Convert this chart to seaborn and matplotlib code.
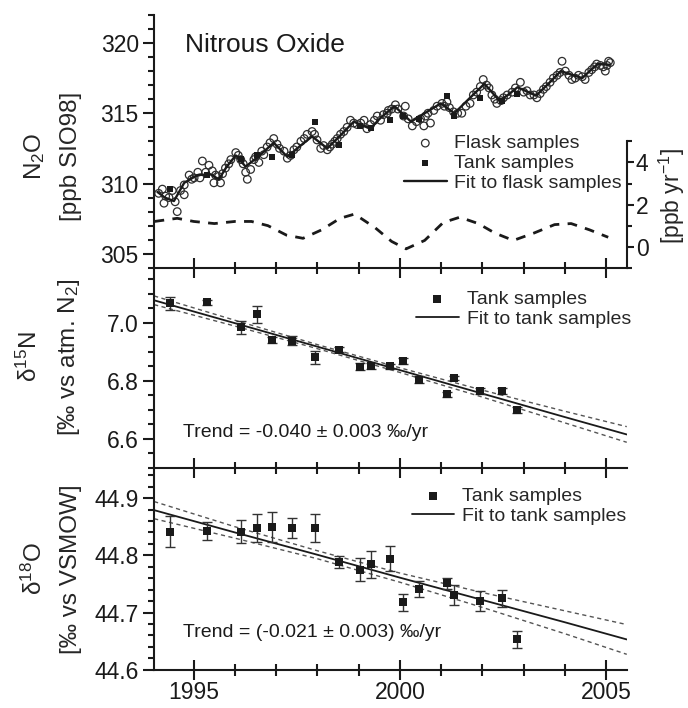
import matplotlib
matplotlib.use("Agg")
import matplotlib.pyplot as plt
from matplotlib.ticker import MultipleLocator, FormatStrFormatter
import numpy as np
import seaborn as sns

# --- panel 1: N2O mole fraction ---
flask_year = [1994.15, 1994.24, 1994.28, 1994.32, 1994.40, 1994.48, 1994.55, 1994.60, 1994.68, 1994.77,
              1994.77, 1994.89, 1994.95, 1995.01, 1995.10, 1995.15, 1995.21, 1995.29, 1995.37, 1995.45,
              1995.49, 1995.53, 1995.60, 1995.65, 1995.70, 1995.77, 1995.85, 1995.90, 1996.02, 1996.08,
              1996.14, 1996.20, 1996.26, 1996.30, 1996.38, 1996.46, 1996.50, 1996.58, 1996.65, 1996.70,
              1996.78, 1996.85, 1996.94, 1997.02, 1997.08, 1997.19, 1997.27, 1997.35, 1997.43, 1997.50,
              1997.60, 1997.68, 1997.75, 1997.87, 1997.93, 1997.99, 1998.08, 1998.15, 1998.24, 1998.30,
              1998.36, 1998.42, 1998.48, 1998.56, 1998.64, 1998.72, 1998.80, 1998.88, 1998.96, 1999.05,
              1999.13, 1999.20, 1999.29, 1999.38, 1999.45, 1999.53, 1999.60, 1999.69, 1999.72, 1999.80,
              1999.89, 1999.95, 2000.09, 2000.13, 2000.20, 2000.30, 2000.40, 2000.50, 2000.58, 2000.62,
              2000.68, 2000.74, 2000.82, 2000.90, 2001.02, 2001.08, 2001.14, 2001.20, 2001.30, 2001.40,
              2001.50, 2001.60, 2001.70, 2001.78, 2001.86, 2001.95, 2002.02, 2002.10, 2002.16, 2002.23,
              2002.30, 2002.35, 2002.45, 2002.51, 2002.60, 2002.72, 2002.80, 2002.92, 2003.00, 2003.08,
              2003.16, 2003.25, 2003.32, 2003.40, 2003.48, 2003.55, 2003.64, 2003.72, 2003.81, 2003.88,
              2003.93, 2004.01, 2004.10, 2004.17, 2004.25, 2004.33, 2004.42, 2004.49, 2004.58, 2004.65,
              2004.72, 2004.77, 2004.86, 2004.93, 2004.98, 2005.02, 2005.06, 2005.10]
flask_ppb = [309.3, 309.6, 308.6, 309.1, 309.0, 309.5, 308.7, 308.0, 309.5, 309.2,
             309.9, 310.6, 310.3, 310.4, 310.8, 310.4, 311.6, 310.8, 311.3, 310.9,
             310.05, 310.6, 310.5, 310.05, 310.7, 311.1, 311.4, 311.7, 312.2, 312.0,
             311.7, 311.4, 310.8, 310.3, 311.0, 311.7, 311.9, 311.5, 312.3, 312.05,
             312.6, 312.9, 313.2, 312.8, 312.5, 312.3, 311.8, 312.0, 312.4, 312.6,
             313.0, 313.2, 313.5, 313.7, 313.5, 313.1, 312.5, 312.7, 312.4, 312.6,
             312.8, 313.0, 313.2, 313.5, 313.7, 314.0, 314.5, 314.3, 314.2, 314.3,
             314.5, 313.9, 314.2, 314.5, 314.8, 314.5, 314.9, 315.0, 315.2, 315.3,
             315.6, 315.3, 314.8, 315.5, 314.6, 314.1, 314.4, 314.6, 314.1, 314.8,
             315.0, 314.3, 315.2, 315.5, 315.7, 315.5, 315.8, 315.4, 315.1, 315.0,
             315.0, 315.5, 315.7, 316.3, 316.5, 316.9, 317.4, 317.0, 316.8, 316.3,
             316.0, 315.7, 315.9, 316.1, 316.3, 316.5, 316.8, 317.2, 316.5, 316.6,
             316.3, 316.3, 316.1, 316.4, 316.7, 316.9, 317.2, 317.5, 317.7, 317.9,
             318.7, 318.0, 317.7, 317.4, 317.5, 317.7, 317.6, 317.4, 317.9, 318.1,
             318.3, 318.5, 318.4, 318.3, 318.0, 318.4, 318.7, 318.6]

fit_year = [1994.12, 1994.30, 1994.52, 1994.77, 1995.09, 1995.41, 1995.61, 1995.80, 1996.02, 1996.26,
            1996.60, 1996.94, 1997.27, 1997.55, 1997.87, 1998.24, 1998.55, 1998.88, 1999.28, 1999.54,
            1999.87, 2000.27, 2000.60, 2000.99, 2001.32, 2001.70, 2002.05, 2002.41, 2002.62, 2002.85,
            2003.30, 2003.60, 2003.90, 2004.42, 2004.60, 2004.79, 2005.08]
fit_ppb = [309.4, 309.0, 308.75, 310.05, 310.6, 310.65, 310.3, 311.2, 312.0, 311.2,
           312.0, 312.9, 311.9, 312.6, 313.35, 312.5, 313.4, 314.4, 313.9, 314.7,
           315.5, 314.4, 315.0, 315.7, 315.0, 316.1, 317.1, 315.9, 316.3, 316.85,
           316.25, 317.1, 318.0, 317.5, 318.0, 318.5, 318.45]

growth_year = [1994.05, 1994.60, 1995.00, 1995.50, 1996.00, 1996.40, 1996.80, 1997.25, 1997.65, 1998.10,
               1998.55, 1998.90, 1999.40, 1999.80, 2000.15, 2000.60, 2001.05, 2001.45, 2001.90, 2002.30,
               2002.75, 2003.25, 2003.75, 2004.15, 2004.60, 2005.05]
growth_rate = [1.2, 1.35, 1.2, 1.1, 1.2, 1.2, 1.0, 0.55, 0.4, 0.8,
               1.35, 1.55, 0.9, 0.25, -0.1, 0.3, 1.15, 1.4, 1.1, 0.65,
               0.3, 0.65, 1.05, 1.1, 0.8, 0.45]

# --- tank samples (shared dates) ---
tank_year = [1994.43, 1995.33, 1996.14, 1996.54, 1996.90, 1997.39, 1997.95, 1998.52, 1999.04, 1999.30,
             1999.77, 2000.07, 2000.47, 2001.14, 2001.32, 2001.95, 2002.47, 2002.84]
tank_ppb = [309.6, 310.6, 311.75, 312.05, 311.9, 312.05, 314.4, 312.75, 314.06, 313.94,
            314.5, 314.8, 314.6, 316.2, 314.8, 316.06, 315.9, 316.4]
d15n = [7.067, 7.071, 6.985, 7.029, 6.940, 6.939, 6.881, 6.908, 6.848, 6.851,
        6.850, 6.868, 6.804, 6.753, 6.810, 6.764, 6.764, 6.699]
d15n_err = [0.021, 0.008, 0.023, 0.030, 0.010, 0.017, 0.022, 0.010, 0.012, 0.010,
            0.008, 0.010, 0.012, 0.010, 0.008, 0.010, 0.010, 0.010]
d18o = [44.841, 44.842, 44.841, 44.848, 44.849, 44.848, 44.848, 44.788, 44.775, 44.784,
        44.794, 44.718, 44.741, 44.751, 44.731, 44.720, 44.725, 44.653]
d18o_err = [0.027, 0.016, 0.020, 0.024, 0.026, 0.018, 0.025, 0.011, 0.020, 0.023,
            0.022, 0.015, 0.014, 0.009, 0.017, 0.017, 0.015, 0.015]

# linear fits with confidence bands
band_year = [1994.04, 1996, 1998, 2000, 2002, 2004, 2005.5]
d15n_fit = [7.078, 6.999, 6.918, 6.837, 6.756, 6.675, 6.615]
d15n_hi = [7.093, 7.009, 6.925, 6.845, 6.768, 6.695, 6.642]
d15n_lo = [7.063, 6.989, 6.911, 6.829, 6.744, 6.655, 6.588]
d18o_fit = [44.879, 44.840, 44.801, 44.761, 44.722, 44.683, 44.653]
d18o_hi = [44.894, 44.850, 44.808, 44.769, 44.735, 44.703, 44.679]
d18o_lo = [44.864, 44.830, 44.794, 44.753, 44.709, 44.663, 44.627]

sns.set_theme(style="ticks")
plt.rcParams["font.family"] = ["Liberation Sans", "DejaVu Sans"]
plt.rcParams["mathtext.fontset"] = "custom"
plt.rcParams["mathtext.rm"] = "Liberation Sans"
plt.rcParams["mathtext.it"] = "Liberation Sans:italic"
plt.rcParams["mathtext.default"] = "regular"

fig = plt.figure(figsize=(6.88, 7.08), dpi=100)
gs = fig.add_gridspec(3, 1, height_ratios=[253, 200, 202], hspace=0,
                      left=0.224, right=0.911, top=0.979, bottom=0.054)
ax1 = fig.add_subplot(gs[0])
ax2 = fig.add_subplot(gs[1], sharex=ax1)
ax3 = fig.add_subplot(gs[2], sharex=ax1)

ink = "#1a1a1a"
FS_TICK = 16.5
FS_LAB = 17.5
FS_LEG = 14
LSP = 1.75

# panel 1
sns.scatterplot(x=flask_year, y=flask_ppb, ax=ax1, marker="o", s=30, facecolor="none",
                edgecolor="#2e2e2e", linewidth=0.9, label="Flask samples", zorder=2)
sns.scatterplot(x=tank_year, y=tank_ppb, ax=ax1, marker="s", s=14, color=ink,
                edgecolor=ink, linewidth=0, label="Tank samples", zorder=4)
sns.lineplot(x=fit_year, y=fit_ppb, ax=ax1, color=ink, lw=1.7, sort=False,
             estimator=None, label="Fit to flask samples", zorder=3)
ax1.set_ylim(304, 322)
ax1.yaxis.set_major_locator(MultipleLocator(5))
ax1.yaxis.set_minor_locator(MultipleLocator(1))
ax1.yaxis.set_major_formatter(FormatStrFormatter("%d"))
ax1.set_ylabel("N$_2$O\n[ppb SIO98]", fontsize=FS_LAB, linespacing=LSP)
ax1.yaxis.set_label_coords(-0.153, 0.44)
ax1.text(0.0655, 0.881, "Nitrous Oxide", transform=ax1.transAxes, fontsize=19,
         va="center", ha="left", color=ink)
ax1.legend(loc="center left", bbox_to_anchor=(0.5285, 0.413), frameon=False,
           fontsize=FS_LEG, handlelength=2.2, handletextpad=0.4, borderpad=0,
           borderaxespad=0, labelspacing=0.12, markerscale=1.0)

ax1r = ax1.twinx()
sns.lineplot(x=growth_year, y=growth_rate, ax=ax1r, color=ink, lw=2.0, sort=False,
             estimator=None, legend=False)
ax1r.lines[-1].set_dashes((3.5, 3))
ax1r.set_ylim(-1, 11)
ax1r.set_yticks([0, 2, 4])
ax1r.set_yticks([-1, 1, 3, 5], minor=True)
ax1r.spines["right"].set_bounds(-1, 5)
for s in ["top", "left", "bottom"]:
    ax1r.spines[s].set_visible(False)
ax1r.spines["right"].set_linewidth(1.5)
ax1r.spines["right"].set_color(ink)
ax1r.tick_params(axis="y", which="major", direction="out", length=5, width=1.5,
                 labelsize=FS_TICK, pad=1.5, colors=ink)
ax1r.tick_params(axis="y", which="minor", direction="out", length=3.5, width=1.5, colors=ink)
ax1r.set_ylabel("[ppb yr$^{-1}$]", fontsize=16.5, rotation=90)
ax1r.yaxis.set_label_coords(1.063, 0.285)

# panel 2
ax2.errorbar(tank_year, d15n, yerr=d15n_err, fmt="none", ecolor="#333333",
             elinewidth=1.0, capsize=3.5, capthick=1.0, zorder=3)
sns.scatterplot(x=tank_year, y=d15n, ax=ax2, marker="s", s=26, color=ink,
                edgecolor=ink, linewidth=0, label="Tank samples", zorder=4)
sns.lineplot(x=band_year, y=d15n_fit, ax=ax2, color=ink, lw=1.3, sort=False,
             estimator=None, label="Fit to tank samples", zorder=2)
for band in (d15n_hi, d15n_lo):
    sns.lineplot(x=band_year, y=band, ax=ax2, color="#555555", lw=1.0, sort=False,
                 estimator=None, legend=False, zorder=2)
    ax2.lines[-1].set_dashes((3, 2.5))
ax2.set_ylim(6.5, 7.19)
ax2.yaxis.set_major_locator(MultipleLocator(0.2))
ax2.yaxis.set_minor_locator(MultipleLocator(0.05))
ax2.yaxis.set_major_formatter(FormatStrFormatter("%.1f"))
ax2.set_ylabel("δ$^{15}$N\n[‰ vs atm. N$_2$]", fontsize=FS_LAB, linespacing=LSP)
ax2.yaxis.set_label_coords(-0.153, 0.555)
ax2.text(0.061, 0.175, "Trend = -0.040 ± 0.003 ‰/yr", transform=ax2.transAxes,
         fontsize=14, va="center", ha="left", color=ink)
ax2.legend(loc="center left", bbox_to_anchor=(0.554, 0.7925), frameon=False,
           fontsize=FS_LEG, handlelength=2.2, handletextpad=0.4, borderpad=0,
           borderaxespad=0, labelspacing=0.12)

# panel 3
ax3.errorbar(tank_year, d18o, yerr=d18o_err, fmt="none", ecolor="#333333",
             elinewidth=1.0, capsize=3.5, capthick=1.0, zorder=3)
sns.scatterplot(x=tank_year, y=d18o, ax=ax3, marker="s", s=26, color=ink,
                edgecolor=ink, linewidth=0, label="Tank samples", zorder=4)
sns.lineplot(x=band_year, y=d18o_fit, ax=ax3, color=ink, lw=1.3, sort=False,
             estimator=None, label="Fit to tank samples", zorder=2)
for band in (d18o_hi, d18o_lo):
    sns.lineplot(x=band_year, y=band, ax=ax3, color="#555555", lw=1.0, sort=False,
                 estimator=None, legend=False, zorder=2)
    ax3.lines[-1].set_dashes((3, 2.5))
ax3.set_ylim(44.6, 44.953)
ax3.yaxis.set_major_locator(MultipleLocator(0.1))
ax3.yaxis.set_minor_locator(MultipleLocator(0.02))
ax3.yaxis.set_major_formatter(FormatStrFormatter("%.1f"))
ax3.set_ylabel("δ$^{18}$O\n[‰ vs VSMOW]", fontsize=FS_LAB, linespacing=LSP)
ax3.yaxis.set_label_coords(-0.153, 0.5)
ax3.text(0.061, 0.183, "Trend = (-0.021 ± 0.003) ‰/yr", transform=ax3.transAxes,
         fontsize=14, va="center", ha="left", color=ink)
ax3.legend(loc="center left", bbox_to_anchor=(0.545, 0.809), frameon=False,
           fontsize=FS_LEG, handlelength=2.2, handletextpad=0.4, borderpad=0,
           borderaxespad=0, labelspacing=0.12)

# shared axes styling
ax3.set_xlim(1994.04, 2005.5)
ax3.xaxis.set_major_locator(MultipleLocator(5))
ax3.xaxis.set_minor_locator(MultipleLocator(1))
ax3.xaxis.set_major_formatter(FormatStrFormatter("%d"))
for ax in (ax1, ax2, ax3):
    ax.spines["top"].set_visible(False)
    ax.spines["right"].set_visible(False)
    for s in ("left", "bottom"):
        ax.spines[s].set_linewidth(1.5)
        ax.spines[s].set_color(ink)
    ax.tick_params(axis="x", which="major", direction="inout", length=14, width=1.5,
                   labelsize=FS_TICK, pad=1, colors=ink)
    ax.tick_params(axis="x", which="minor", direction="inout", length=8, width=1.5, colors=ink)
    ax.tick_params(axis="y", which="major", direction="out", length=8, width=1.5,
                   labelsize=FS_TICK, pad=3, colors=ink)
    ax.tick_params(axis="y", which="minor", direction="out", length=4.5, width=1.5, colors=ink)
    ax.set_xlabel("")
    ax.patch.set_alpha(0)
ax1.tick_params(axis="x", labelbottom=False)
ax2.tick_params(axis="x", labelbottom=False)

fig.savefig("out.png", dpi=100)
